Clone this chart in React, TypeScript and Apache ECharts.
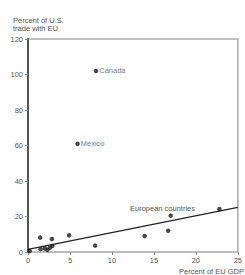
import React, { useEffect, useRef } from "react";
import * as echarts from "echarts";

const countryNames = ["Canada", "Mexico", "", "", "", "", "", "", "", "", "", "", "", "", "", ""];
const gdpShare = [8.1, 5.9, 1.45, 2.85, 4.9, 8.0, 13.9, 16.7, 17.0, 22.8, 0.2, 1.5, 2.0, 2.3, 2.6, 2.9];
const tradeShare = [102, 61, 8.1, 7.3, 9.4, 3.6, 9.0, 12.0, 20.5, 24.2, 0.5, 1.6, 2.1, 1.2, 2.4, 3.4];
const trendX = [0, 25];
const trendY = [1.5, 25.2];
const xTicks = [0, 5, 10, 15, 20, 25];
const yTicks = [0, 20, 40, 60, 80, 100, 120];

const FONT = "Liberation Sans, Arial, sans-serif";
const TXT = "#555";

export default function App() {
  const ref = useRef<HTMLDivElement>(null);
  useEffect(() => {
    const chart = echarts.init(ref.current!, null, { renderer: "svg" });
    const points = gdpShare.map((x, i) => ({ value: [x, tradeShare[i]], name: countryNames[i] }));
    chart.setOption({
      animation: false,
      textStyle: { fontFamily: FONT },
      grid: {
        left: 28, right: 4, top: 39, bottom: 23,
        show: true, borderColor: "#aaa", borderWidth: 1.5, backgroundColor: "transparent",
      },
      title: {
        text: "Percent of U.S.\ntrade with EU",
        left: 8, top: 11,
        textStyle: { fontSize: 7.5, fontWeight: "normal", color: TXT, fontFamily: FONT, lineHeight: 8.5 },
      },
      graphic: [
        {
          type: "text",
          right: 1, top: 267,
          style: { text: "Percent of EU GDP", fill: TXT, font: `7.5px ${FONT}` },
        },
        {
          type: "text",
          left: 130, top: 204,
          style: { text: "European countries", fill: TXT, font: `7.5px ${FONT}` },
        },
      ],
      xAxis: {
        type: "value", min: 0, max: 25, interval: 5,
        axisLine: { show: true, onZero: false, lineStyle: { color: "#bbb", width: 1 } },
        axisTick: { show: true, length: 3, lineStyle: { color: "#888" } },
        splitLine: { show: false },
        axisLabel: {
          color: TXT, fontSize: 7.5, margin: 4, fontFamily: FONT,
          formatter: (v: number) => (xTicks.includes(v) ? String(v) : ""),
        },
      },
      yAxis: {
        type: "value", min: 0, max: 120, interval: 20,
        axisLine: { show: true, onZero: false, lineStyle: { color: "#555", width: 2 } },
        axisTick: { show: true, length: 3, lineStyle: { color: "#888" } },
        splitLine: { show: false },
        axisLabel: {
          color: TXT, fontSize: 7.5, margin: 5, fontFamily: FONT,
          formatter: (v: number) => (yTicks.includes(v) ? String(v) : ""),
        },
      },
      series: [
        {
          type: "line",
          data: trendX.map((x, i) => [x, trendY[i]]),
          symbol: "none",
          lineStyle: { color: "#222", width: 1.3 },
          z: 2,
        },
        {
          type: "scatter",
          data: points,
          symbolSize: 4.5,
          itemStyle: { color: "#1a1a1a" },
          label: {
            show: true, position: "right", distance: 1,
            formatter: (p: any) => p.name,
            color: TXT, fontSize: 7.5, fontFamily: FONT,
          },
          z: 3,
        },
      ],
    });
    return () => chart.dispose();
  }, []);
  return (
    <div
      ref={ref}
      style={{ position: "fixed", left: 0, top: 0, width: 245, height: 275, background: "#fff" }}
    />
  );
}
